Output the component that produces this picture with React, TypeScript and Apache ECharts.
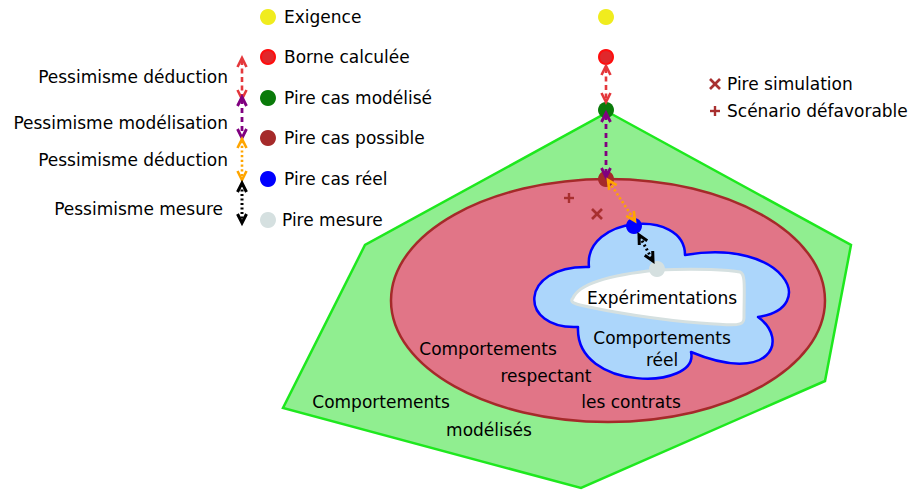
import React, { useEffect, useRef } from 'react';
import * as echarts from 'echarts';

// ---- Diagram geometry (pixel-space data, drawn through hidden value axes) ----
const HEXAGON: number[][] = [[608, 112], [851, 245], [825, 381], [581, 488], [283, 408], [365, 245]];
const CONTRACT_ELLIPSE: number[] = [608, 300.5, 217, 121.5]; // cx, cy, rx, ry

const CLOUD_START: number[] = [589, 267];
const CLOUD_CURVES: number[][] = [
  [583, 216, 685, 208, 685, 255],
  [785, 238, 820, 308, 758, 317],
  [790, 340, 770, 385, 691, 352],
  [700, 390, 575, 392, 578, 327],
  [518, 330, 518, 265, 589, 267],
];

const EXP_START: number[] = [573, 298];
const EXP_CURVES: number[][] = [
  [578, 286, 600, 276, 657, 270],
  [700, 268, 730, 270, 740, 272],
  [746, 274, 744, 290, 744, 318],
  [744, 326, 738, 326, 700, 323],
  [660, 320, 610, 312, 580, 305],
  [572, 303, 570, 301, 573, 298],
];

// ---- Points ----
const LEGEND_DOTS: number[][] = [[268, 17], [268, 57], [268, 98], [268, 138], [268, 179], [268, 220]];
const DIAGRAM_DOTS: number[][] = [[606, 17], [606, 57], [606, 110], [606, 179], [634, 226], [657, 269]];
const LEGEND_LABELS: string[] = ['Exigence', 'Borne calculée', 'Pire cas modélisé', 'Pire cas possible', 'Pire cas réel', 'Pire mesure'];
const LEGEND_LABEL_POS: number[][] = [[284, 17], [284, 57], [284, 98], [284, 138], [284, 179], [282, 220]];

const PESSIMISM_LABELS: string[] = ['Pessimisme déduction', 'Pessimisme modélisation', 'Pessimisme déduction', 'Pessimisme mesure'];
const PESSIMISM_LABEL_POS: number[][] = [[228, 77], [228, 123], [228, 160], [223, 209]];

const LEFT_ARROWS: number[][] = [[242, 58, 242, 99], [242, 97, 242, 138], [242, 139, 242, 180], [242, 183, 242, 223]];
const DIAGRAM_ARROWS: number[][] = [[606, 66, 606, 102], [606, 113, 606, 177], [608, 180, 635, 221], [639, 235, 653, 261]];

const SIM_CROSSES: number[][] = [[597, 214], [715, 84]];
const SCENARIO_PLUSES: number[][] = [[569, 198], [715, 111]];
const MARKER_LABELS: string[] = ['Pire simulation', 'Scénario défavorable'];
const MARKER_LABEL_POS: number[][] = [[727, 84], [727, 111]];

const REGION_LABELS: string[] = ['Expérimentations', 'Comportements', 'réel', 'Comportements', 'respectant', 'les contrats', 'Comportements', 'modélisés'];
const REGION_LABEL_POS: number[][] = [[662, 298], [662, 338], [662, 360], [488, 349], [546, 376], [631, 402], [381, 402], [489, 430]];

// ---- Styles ----
const DOT_COLORS = ['#f0ec1e', '#e0282c', '#0a7a0a', '#a52a2a', '#0000ff', '#d5e0e0'];
const ARROW_COLORS = ['#e4383c', '#800080', '#ffa500', '#000000'];
const ARROW_DASH = [[5, 3.5], [5, 4], [2.2, 2.5], [2, 2.5]];
const ARROW_WIDTH = [2.6, 2.8, 2.6, 3];
const MARKER_COLOR = '#a83030';
const FONT_FAMILY = 'DejaVu Sans';
const FONT_SIZE = 17;

export default function App() {
  const ref = useRef<HTMLDivElement>(null);

  useEffect(() => {
    if (!ref.current) return;
    const chart = echarts.init(ref.current, null, { renderer: 'svg' });

    const curvePath = (api: any, start: number[], curves: number[][]) => {
      const s = api.coord(start);
      let d = `M${s[0]},${s[1]}`;
      for (const c of curves) {
        const a = api.coord([c[0], c[1]]);
        const b = api.coord([c[2], c[3]]);
        const e = api.coord([c[4], c[5]]);
        d += ` C${a[0]},${a[1]} ${b[0]},${b[1]} ${e[0]},${e[1]}`;
      }
      return d + ' Z';
    };

    const textEl = (api: any, pos: number[], text: string, align: string) => {
      const p = api.coord(pos);
      return {
        type: 'text',
        x: p[0],
        y: p[1],
        style: {
          text,
          fill: '#000',
          fontSize: FONT_SIZE,
          fontFamily: FONT_FAMILY,
          align,
          verticalAlign: 'middle',
        },
      };
    };

    const arrowEls = (api: any, seg: number[], idx: number) => {
      const p1 = api.coord([seg[0], seg[1]]);
      const p2 = api.coord([seg[2], seg[3]]);
      const dx = p2[0] - p1[0];
      const dy = p2[1] - p1[1];
      const len = Math.sqrt(dx * dx + dy * dy);
      const ux = dx / len;
      const uy = dy / len;
      const px = -uy;
      const py = ux;
      const hl = 9;
      const hw = 4.5;
      const color = ARROW_COLORS[idx];
      const w = ARROW_WIDTH[idx];
      const head = (tip: number[], bx: number, by: number) => ({
        type: 'polyline',
        shape: {
          points: [
            [tip[0] + bx * hl + px * hw, tip[1] + by * hl + py * hw],
            tip,
            [tip[0] + bx * hl - px * hw, tip[1] + by * hl - py * hw],
          ],
        },
        style: { stroke: color, lineWidth: w, fill: 'none', lineJoin: 'miter' },
      });
      return [
        {
          type: 'line',
          shape: { x1: p1[0] + ux * 2, y1: p1[1] + uy * 2, x2: p2[0] - ux * 2, y2: p2[1] - uy * 2 },
          style: { stroke: color, lineWidth: w, lineDash: ARROW_DASH[idx] },
        },
        head(p1, ux, uy),
        head(p2, -ux, -uy),
      ];
    };

    const option: any = {
      animation: false,
      grid: { left: 0, right: 0, top: 0, bottom: 0 },
      xAxis: { type: 'value', min: 0, max: 912, show: false },
      yAxis: { type: 'value', min: 0, max: 491, inverse: true, show: false },
      series: [
        {
          type: 'custom',
          data: [[0, 0]],
          z: 1,
          renderItem: (_p: any, api: any) => ({
            type: 'polygon',
            shape: { points: HEXAGON.map((q) => api.coord(q)) },
            style: { fill: '#90ee90', stroke: '#1ee81e', lineWidth: 2.5 },
          }),
        },
        {
          type: 'custom',
          data: [[0, 0]],
          z: 2,
          renderItem: (_p: any, api: any) => {
            const c = api.coord([CONTRACT_ELLIPSE[0], CONTRACT_ELLIPSE[1]]);
            const e = api.coord([CONTRACT_ELLIPSE[0] + CONTRACT_ELLIPSE[2], CONTRACT_ELLIPSE[1] + CONTRACT_ELLIPSE[3]]);
            return {
              type: 'ellipse',
              shape: { cx: c[0], cy: c[1], rx: Math.abs(e[0] - c[0]), ry: Math.abs(e[1] - c[1]) },
              style: { fill: '#e17587', stroke: '#a52a2a', lineWidth: 2.5 },
            };
          },
        },
        {
          type: 'custom',
          data: [[0, 0]],
          z: 3,
          renderItem: (_p: any, api: any) => ({
            type: 'group',
            children: [
              {
                type: 'path',
                shape: { pathData: curvePath(api, CLOUD_START, CLOUD_CURVES) },
                style: { fill: '#acd6fb', stroke: '#0000ff', lineWidth: 2.5, lineJoin: 'round' },
              },
              {
                type: 'path',
                shape: { pathData: curvePath(api, EXP_START, EXP_CURVES) },
                style: { fill: '#ffffff', stroke: '#d5e0e0', lineWidth: 3, lineJoin: 'round' },
              },
            ],
          }),
        },
        {
          type: 'custom',
          data: [[0, 0]],
          z: 4,
          renderItem: (_p: any, api: any) => ({
            type: 'group',
            children: [
              ...REGION_LABELS.map((t, i) => textEl(api, REGION_LABEL_POS[i], t, 'center')),
              ...LEGEND_LABELS.map((t, i) => textEl(api, LEGEND_LABEL_POS[i], t, 'left')),
              ...PESSIMISM_LABELS.map((t, i) => textEl(api, PESSIMISM_LABEL_POS[i], t, 'right')),
              ...MARKER_LABELS.map((t, i) => textEl(api, MARKER_LABEL_POS[i], t, 'left')),
            ],
          }),
        },
        {
          type: 'custom',
          data: [[0, 0]],
          z: 5,
          renderItem: (_p: any, api: any) => {
            const children: any[] = [];
            SIM_CROSSES.forEach((q) => {
              const c = api.coord(q);
              const s = 5;
              children.push({ type: 'line', shape: { x1: c[0] - s, y1: c[1] - s, x2: c[0] + s, y2: c[1] + s }, style: { stroke: MARKER_COLOR, lineWidth: 2.6 } });
              children.push({ type: 'line', shape: { x1: c[0] - s, y1: c[1] + s, x2: c[0] + s, y2: c[1] - s }, style: { stroke: MARKER_COLOR, lineWidth: 2.6 } });
            });
            SCENARIO_PLUSES.forEach((q) => {
              const c = api.coord(q);
              const s = 5;
              children.push({ type: 'line', shape: { x1: c[0] - s, y1: c[1], x2: c[0] + s, y2: c[1] }, style: { stroke: MARKER_COLOR, lineWidth: 2.4 } });
              children.push({ type: 'line', shape: { x1: c[0], y1: c[1] - s, x2: c[0], y2: c[1] + s }, style: { stroke: MARKER_COLOR, lineWidth: 2.4 } });
            });
            return { type: 'group', children };
          },
        },
        {
          type: 'custom',
          data: [[0, 0]],
          z: 6,
          renderItem: (_p: any, api: any) => {
            const children: any[] = [];
            [LEGEND_DOTS, DIAGRAM_DOTS].forEach((set) => {
              set.forEach((q, i) => {
                const c = api.coord(q);
                children.push({
                  type: 'circle',
                  shape: { cx: c[0], cy: c[1], r: i === 1 ? 7 : 8 },
                  style: i === 1
                    ? { fill: DOT_COLORS[i], stroke: '#ff0d0d', lineWidth: 2 }
                    : { fill: DOT_COLORS[i] },
                });
              });
            });
            return { type: 'group', children };
          },
        },
        {
          type: 'custom',
          data: [[0, 0]],
          z: 7,
          renderItem: (_p: any, api: any) => ({
            type: 'group',
            children: [
              ...LEFT_ARROWS.flatMap((s, i) => arrowEls(api, s, i)),
              ...DIAGRAM_ARROWS.flatMap((s, i) => arrowEls(api, s, i)),
            ],
          }),
        },
      ],
    };

    chart.setOption(option);
    return () => chart.dispose();
  }, []);

  return (
    <div
      ref={ref}
      style={{ position: 'fixed', left: 0, top: 0, width: 912, height: 491, background: '#fff' }}
    />
  );
}
